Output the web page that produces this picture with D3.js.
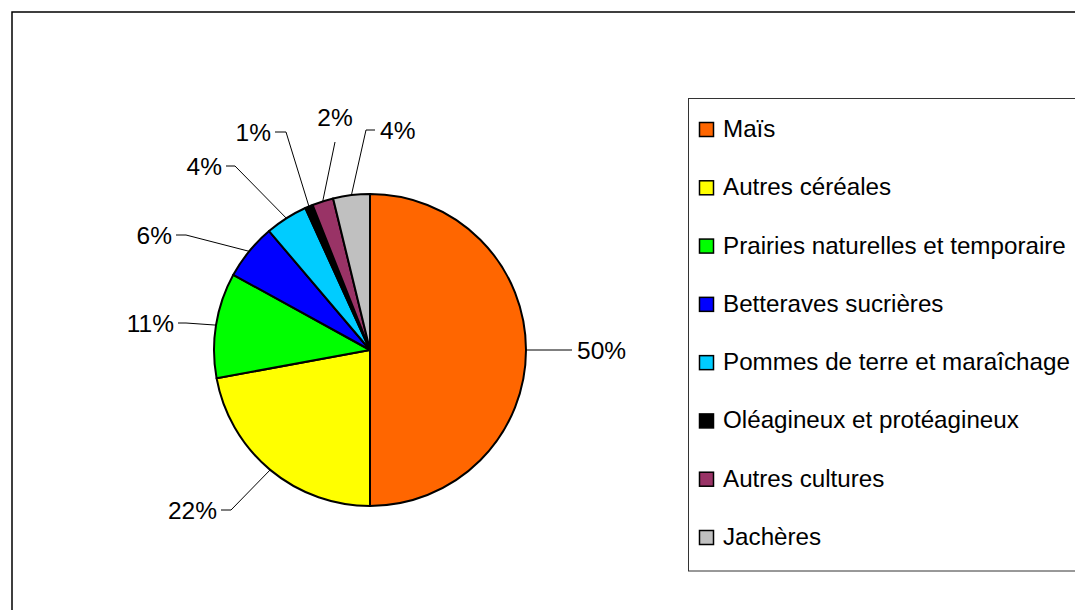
<!DOCTYPE html>
<html>
<head>
<meta charset="utf-8">
<script src="https://cdn.jsdelivr.net/npm/d3@7"></script>
<style>
  html, body { margin: 0; padding: 0; background: #fff; overflow: hidden; }
  svg { display: block; }
  text { font-family: "Liberation Sans", Arial, sans-serif; }
</style>
</head>
<body>
<script>
// ---- data ----
const categories = ["Maïs", "Autres céréales", "Prairies naturelles et temporaire", "Betteraves sucrières",
  "Pommes de terre et maraîchage", "Oléagineux et protéagineux", "Autres cultures", "Jachères"];
const values = [50.0, 22.1, 10.9, 5.8, 4.4, 0.8, 2.2, 3.8];
const labels = ["50%", "22%", "11%", "6%", "4%", "1%", "2%", "4%"];
const colors = ["#FF6600", "#FFFF00", "#00FF00", "#0000FF", "#00CCFF", "#000000", "#993366", "#C0C0C0"];

// ---- layout (label elbow points relative to pie centre, stub length, anchor) ----
const labelLayout = [
  { ex: 202, ey: 0, stub: 0, anchor: "start" },
  { ex: -139, ey: 160, stub: -10, anchor: "end" },
  { ex: -184, ey: -27, stub: -8, anchor: "end" },
  { ex: -184, ey: -115, stub: -10, anchor: "end" },
  { ex: -135, ey: -184, stub: -9, anchor: "end" },
  { ex: -84, ey: -218, stub: -11, anchor: "end" },
  { ex: -35, ey: -208, stub: 0, anchor: "middle", dy: -25 },
  { ex: -4, ey: -220, stub: 9, anchor: "start" }
];

const W = 1075, H = 610;
const cx = 370, cy = 350, R = 156;

const svg = d3.select("body").append("svg").attr("width", W).attr("height", H);

// outer chart border
svg.append("rect").attr("x", 12).attr("y", 12).attr("width", W + 20).attr("height", H + 20)
  .attr("fill", "none").attr("stroke", "#000").attr("stroke-width", 1.5);

const pie = d3.pie().sort(null).value(d => d)
  .startAngle(0).endAngle(2 * Math.PI);
const arcs = pie(values);
const arc = d3.arc().innerRadius(0).outerRadius(R);
const edgeArc = d3.arc().innerRadius(R).outerRadius(R);

const g = svg.append("g").attr("transform", `translate(${cx},${cy})`);

g.selectAll("path.slice").data(arcs).enter().append("path")
  .attr("class", "slice")
  .attr("d", arc)
  .attr("fill", (d, i) => colors[i])
  .attr("stroke", "#000").attr("stroke-width", 2).attr("stroke-linejoin", "round");

// leader lines and labels
arcs.forEach((d, i) => {
  const L = labelLayout[i];
  const [px, py] = edgeArc.centroid(d);
  const pts = [[px, py], [L.ex, L.ey]];
  if (L.stub) pts.push([L.ex + L.stub, L.ey]);
  g.append("path")
    .attr("d", d3.line()(pts))
    .attr("fill", "none").attr("stroke", "#000").attr("stroke-width", 1);
  const last = pts[pts.length - 1];
  let tx = last[0], ty = last[1];
  if (L.anchor === "start") tx += 5;
  else if (L.anchor === "end") tx -= 4;
  if (L.dy) ty += L.dy;
  g.append("text")
    .attr("x", tx).attr("y", ty)
    .attr("dy", "0.36em")
    .attr("text-anchor", L.anchor)
    .attr("font-size", 24.5)
    .attr("fill", "#000")
    .text(labels[i]);
});

// legend
const lg = svg.append("g");
lg.append("rect").attr("x", 688.5).attr("y", 98.5).attr("width", 420).attr("height", 472.5)
  .attr("fill", "#fff").attr("stroke", "#333").attr("stroke-width", 1);

const rowY = d3.scalePoint().domain(categories).range([137, 545]);
const items = lg.selectAll("g.item").data(categories).enter().append("g").attr("class", "item")
  .attr("transform", d => `translate(0,${rowY(d)})`);
items.append("rect")
  .attr("x", 699.5).attr("y", -14.5).attr("width", 14).attr("height", 14)
  .attr("fill", (d, i) => colors[i]).attr("stroke", "#000").attr("stroke-width", 1.5);
items.append("text")
  .attr("x", 723).attr("y", 0)
  .attr("font-size", 24.2).attr("fill", "#000")
  .text(d => d);
</script>
</body>
</html>
